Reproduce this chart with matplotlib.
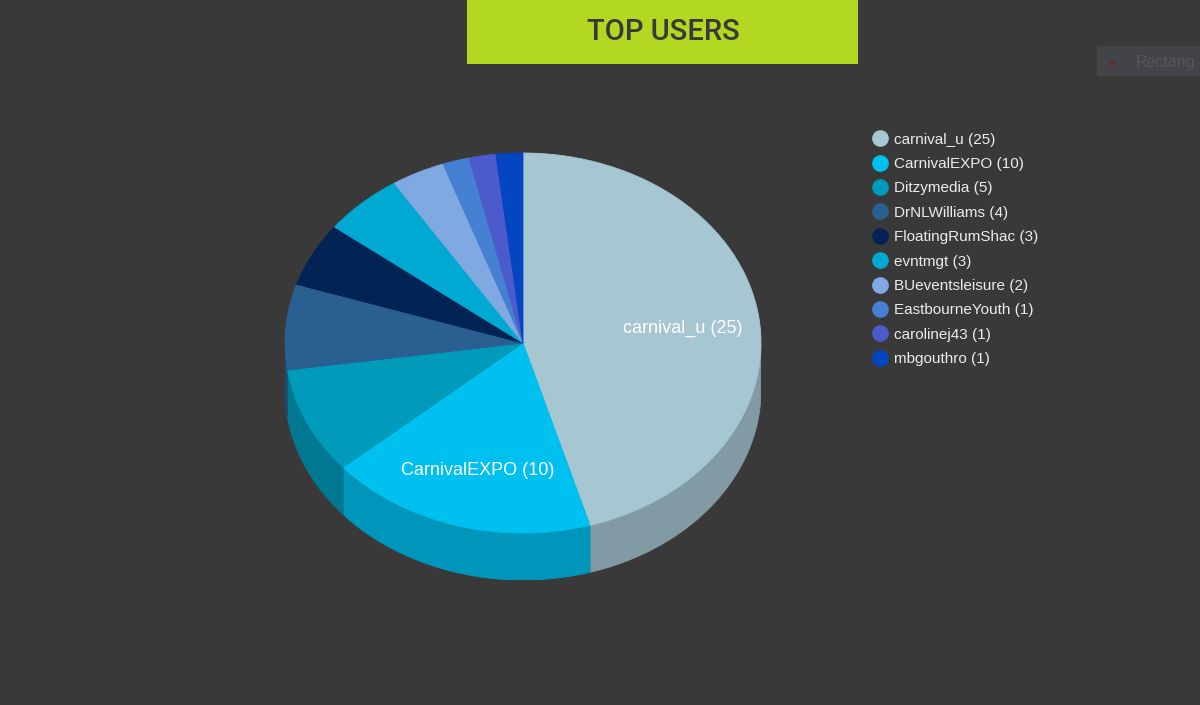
import numpy as np
import matplotlib
matplotlib.use("Agg")
import matplotlib.pyplot as plt
from matplotlib.patches import Polygon, Rectangle
from matplotlib.lines import Line2D
from matplotlib.colors import to_rgb

## Data:
users = ["carnival_u", "CarnivalEXPO", "Ditzymedia", "DrNLWilliams", "FloatingRumShac",
         "evntmgt", "BUeventsleisure", "EastbourneYouth", "carolinej43", "mbgouthro"]
counts = [25, 10, 5, 4, 3, 3, 2, 1, 1, 1]
colors = ["#a6c6d2", "#00c0f0", "#009abb", "#2a5f91", "#012454",
          "#00a9d2", "#80a9e1", "#4580d2", "#4c5acb", "#0445c2"]
title = "TOP USERS"

bg = "#3a3939"
depth = 0.247       # pie thickness, in units of the vertical radius
side_shade = 0.78   # side walls are a darker version of the top colour

fig = plt.figure(figsize=(12, 7.05), dpi=100, facecolor=bg)

## Title box:
fig.patches.append(Rectangle((467 / 1200, 1 - 64 / 705), 391 / 1200, 64 / 705,
                             transform=fig.transFigure, facecolor="#b3d821", edgecolor="none"))
fig.text(663 / 1200, 1 - 32 / 705, title, ha="center", va="center", fontsize=21,
         color="#3a3a3a", family="Roboto", weight="medium")

## Leftover element at the top right (cut by the page edge):
fig.patches.append(Rectangle((1097 / 1200, 1 - 76 / 705), 110 / 1200, 30 / 705,
                             transform=fig.transFigure, facecolor="#42444a", edgecolor="none"))
fig.text(1112 / 1200, 1 - 62 / 705, "\u25cf", ha="center", va="center", fontsize=6, color="#5e3030")
fig.text(1136 / 1200, 1 - 63 / 705, "Rectang", ha="left", va="center", fontsize=11.5,
         color="#55575c", family="Liberation Sans")

## Pie (squashed circle + side wall):
ax = fig.add_axes([285 / 1200, 125 / 705, 476 / 1200, 427 / 705])
ax.set_facecolor("none")
wedges, _ = ax.pie(counts, colors=colors, startangle=90, counterclock=False,
                   wedgeprops=dict(linewidth=0.6), radius=1)
for w, c in zip(wedges, colors):
    w.set_edgecolor(c)
    w.set_zorder(3)

for w, c in zip(wedges, colors):
    t = np.radians(np.linspace(w.theta1, w.theta2, 200))
    t = t[np.sin(t) <= 0.001]
    if len(t) < 2:
        continue
    x, y = np.cos(t), np.sin(t)
    pts = np.vstack([np.column_stack([x, y]), np.column_stack([x[::-1], y[::-1] - depth])])
    side = tuple(v * side_shade for v in to_rgb(c))
    ax.add_patch(Polygon(pts, closed=True, facecolor=side, edgecolor=side, linewidth=0.6, zorder=2))

for w, u, n in zip(wedges, users, counts):
    if n < 10:
        continue
    mid = np.radians((w.theta1 + w.theta2) / 2)
    ax.text(0.68 * np.cos(mid), 0.68 * np.sin(mid) - 0.02, f"{u} ({n})", ha="center", va="center",
            fontsize=13, color="white", family="Liberation Sans", zorder=5)

ax.set_aspect("auto")
ax.set_xlim(-1, 1)
ax.set_ylim(-1 - depth, 1)
ax.axis("off")

## Legend:
handles = [Line2D([], [], linestyle="none", marker="o", markersize=11, color=c) for c in colors]
labels = [f"{u} ({n})" for u, n in zip(users, counts)]
leg = fig.legend(handles, labels, loc="upper left", bbox_to_anchor=(866 / 1200, 1 - 125 / 705),
                 frameon=False, labelspacing=0.68, handlelength=0.8,
                 handletextpad=0.5, borderpad=0, prop={"family": "Liberation Sans", "size": 11})
for txt in leg.get_texts():
    txt.set_color("#ececec")

fig.savefig("out.png", dpi=100, facecolor=bg)
